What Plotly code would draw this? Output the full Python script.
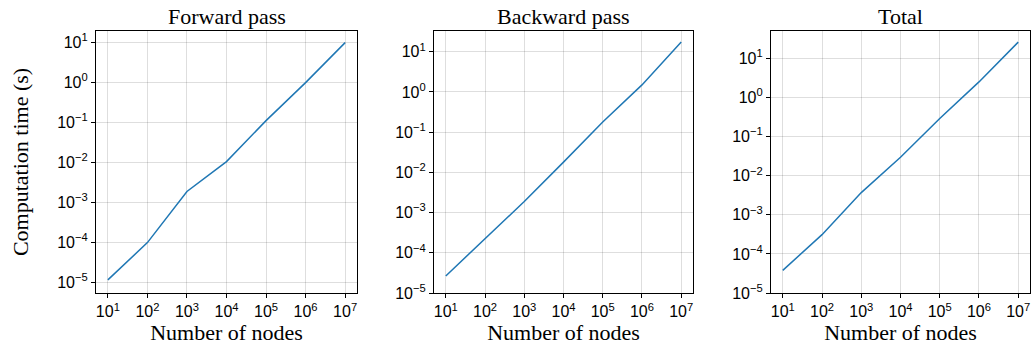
import plotly.graph_objects as go

nodes = [1e1, 1e2, 1e3, 1e4, 1e5, 1e6, 1e7]
forward = [1.17e-5, 1.0e-4, 1.9e-3, 1.06e-2, 1.12e-1, 1.0, 10.0]
backward = [2.66e-5, 2.2e-4, 1.88e-3, 1.8e-2, 0.18, 1.5, 17.5]
total = [3.8e-5, 3.1e-4, 3.7e-3, 2.95e-2, 0.29, 2.5, 26.0]
titles = ["Forward pass", "Backward pass", "Total"]
xtick_vals = [1e1, 1e2, 1e3, 1e4, 1e5, 1e6, 1e7]
xtick_text = ["10<sup>%d</sup>" % i for i in range(1, 8)]
ytick_vals = [10.0 ** e for e in range(-5, 2)]
ytick_text = ["10<sup>%s</sup>" % (str(e).replace("-", "\u2212")) for e in range(-5, 2)]

W, H = 1032, 352
domains_px = [(96, 357), (434, 693), (771, 1030)]
yranges = [[-5.26, 1.29], [-5.0, 1.517], [-5.0, 1.70]]

fig = go.Figure()
series = [forward, backward, total]
sans = "Liberation Sans, Arial, sans-serif"
serif = "Liberation Serif, DejaVu Serif, serif"

for i, (ys, (x0, x1)) in enumerate(zip(series, domains_px)):
    xa = "x" if i == 0 else "x%d" % (i + 1)
    ya = "y" if i == 0 else "y%d" % (i + 1)
    fig.add_trace(go.Scatter(x=nodes, y=ys, mode="lines",
                             line=dict(color="#1f77b4", width=1.5),
                             xaxis=xa, yaxis=ya, showlegend=False))
    axkey = "xaxis" if i == 0 else "xaxis%d" % (i + 1)
    aykey = "yaxis" if i == 0 else "yaxis%d" % (i + 1)
    common = dict(showline=True, mirror=True, linecolor="black", linewidth=1.2,
                  showgrid=True, gridcolor="rgba(0,0,0,0.13)", gridwidth=1,
                  ticks="outside", ticklen=4, tickwidth=1, tickcolor="black",
                  zeroline=False, tickfont=dict(family=sans, size=16, color="black"))
    fig.layout[axkey] = dict(type="log", domain=[x0 / W, x1 / W], anchor=ya,
                             range=[0.7, 7.3], tickvals=xtick_vals, ticktext=xtick_text,
                             title=dict(text="Number of nodes", font=dict(family=serif, size=22, color="black"), standoff=2),
                             **common)
    yd = dict(type="log", domain=[0, 1], anchor=xa, range=yranges[i],
              tickvals=ytick_vals, ticktext=ytick_text, **common)
    if i == 0:
        yd["title"] = dict(text="Computation time (s)", font=dict(family=serif, size=22, color="black"), standoff=22)
    fig.layout[aykey] = yd
    fig.add_annotation(text=titles[i], x=(x0 + x1) / 2 / W, y=1, xref="paper", yref="paper",
                       xanchor="center", yanchor="bottom", yshift=0, showarrow=False,
                       font=dict(family=serif, size=22, color="black"))

fig.update_layout(width=W, height=H, margin=dict(l=0, r=0, t=31, b=59, autoexpand=False),
                  plot_bgcolor="white", paper_bgcolor="white")
fig.write_html("out.html", config={"displayModeBar": False},
               post_script="document.body.style.margin='0';document.body.style.overflow='hidden';")
